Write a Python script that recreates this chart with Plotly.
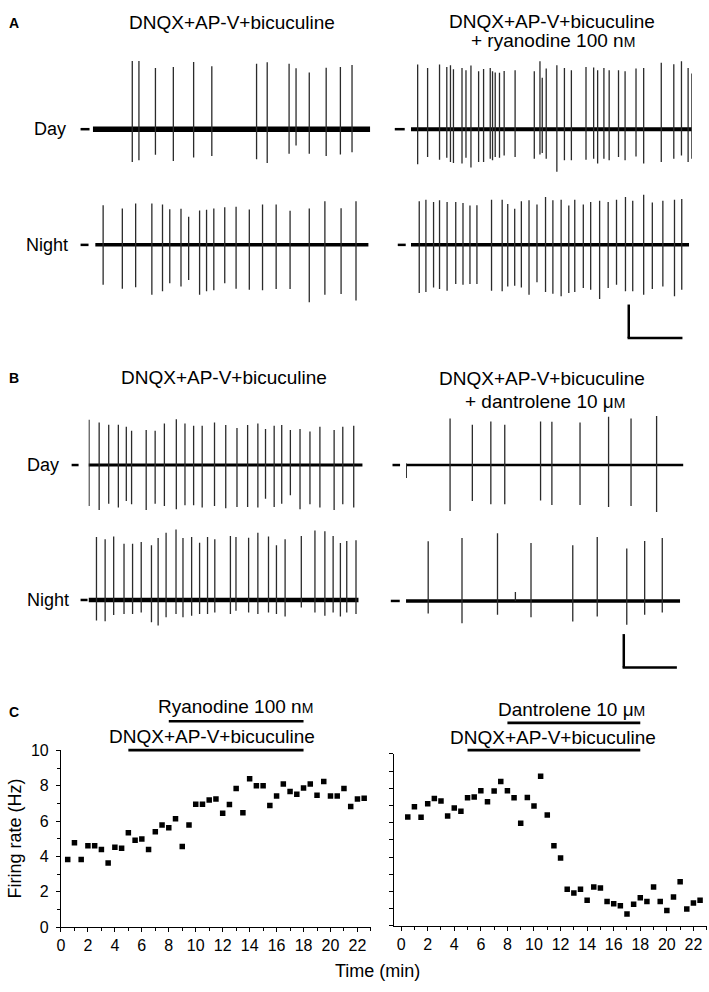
import plotly.graph_objects as go

W, H = 709, 992
FONT = "Liberation Sans, Arial, sans-serif"

# ---------------- Panel A / B: extracellular recordings -----------------
# spike time (sweep units), upward and downward spike amplitude (trace units)
a_day_ctrl_t = [39.7, 46.4, 63.0, 81.0, 101.4, 119.7, 164.7, 175.4, 197.4, 204.4, 217.7, 234.7, 249.0, 260.7]
a_day_ctrl_up = [69.3, 69.3, 62.3, 63.3, 68.3, 64.0, 66.6, 68.0, 66.6, 62.0, 57.6, 62.6, 63.3, 65.3]
a_day_ctrl_dn = [33.4, 31.7, 26.0, 32.4, 28.7, 27.4, 30.7, 34.4, 25.0, 16.7, 25.0, 27.4, 25.7, 23.4]

a_day_rya_t = [6.7, 16.7, 28.7, 36.0, 39.7, 42.7, 51.3, 55.3, 60.3, 68.0, 73.0, 79.7, 82.0, 84.7, 89.0, 93.7,
               104.7, 124.0, 129.7, 132.0, 136.0, 146.7, 154.3, 161.3, 176.0, 183.7, 187.7, 194.0, 199.3,
               208.7, 215.3, 226.3, 234.0, 251.7, 264.3, 272.0, 278.7, 282.3]
a_day_rya_up = [65.7, 62.3, 65.7, 63.3, 65.0, 61.0, 62.3, 60.0, 64.7, 59.0, 61.3, 62.3, 59.0, 57.7, 57.3, 59.3,
                60.0, 59.0, 69.0, 52.3, 61.7, 65.0, 62.3, 60.0, 63.3, 62.7, 60.0, 62.3, 60.0,
                60.0, 59.0, 61.7, 62.3, 67.7, 66.0, 69.0, 62.3, 56.7]
a_day_rya_dn = [35.7, 28.3, 31.0, 29.0, 33.3, 34.3, 35.0, 29.0, 39.0, 33.3, 33.3, 30.0, 31.7, 28.3, 29.0, 26.7,
                28.3, 30.0, 25.7, 24.3, 30.0, 43.3, 31.7, 31.7, 31.0, 30.0, 35.0, 30.0, 31.7,
                28.3, 31.7, 27.7, 35.0, 33.3, 30.0, 26.7, 33.3, 30.0]

a_night_ctrl_t = [8.0, 27.3, 40.7, 57.0, 67.7, 75.0, 86.3, 94.0, 105.0, 112.0, 119.3, 130.3, 141.7, 155.0,
                  168.3, 182.0, 196.0, 215.3, 231.0, 247.3, 262.3]
a_night_ctrl_up = [40.3, 37.0, 42.0, 42.0, 41.0, 36.3, 36.7, 28.7, 35.0, 35.7, 37.0, 38.3, 38.7, 36.0,
                   41.0, 41.0, 34.7, 37.0, 44.3, 37.3, 44.3]
a_night_ctrl_dn = [40.7, 44.7, 43.0, 50.7, 47.3, 39.0, 42.3, 35.7, 50.7, 47.3, 46.3, 39.0, 44.7, 45.7,
                   46.3, 45.0, 45.0, 58.3, 50.7, 50.0, 56.7]

a_night_rya_t = [8.3, 15.0, 22.7, 28.7, 36.3, 45.0, 52.3, 59.3, 66.3, 81.0, 91.7, 97.3, 104.3, 111.0, 118.7,
                 126.7, 135.3, 142.7, 151.0, 158.7, 164.7, 173.3, 180.7, 189.7, 198.3, 206.7, 215.7, 223.0,
                 234.0, 242.7, 253.3, 265.0, 272.3]
a_night_rya_up = [44.3, 46.0, 43.7, 45.3, 43.7, 43.7, 42.7, 40.0, 40.3, 46.0, 46.0, 41.7, 36.7, 44.3, 45.3,
                  41.0, 48.7, 45.3, 46.0, 40.0, 46.0, 41.0, 43.7, 45.0, 43.7, 46.0, 48.7, 45.0,
                  51.0, 43.0, 45.0, 46.0, 46.7]
a_night_rya_dn = [49.0, 48.0, 43.3, 45.0, 46.7, 39.7, 40.7, 39.7, 39.7, 46.7, 47.3, 42.3, 41.7, 43.3, 50.7,
                  38.0, 48.0, 49.7, 52.3, 49.0, 48.0, 44.0, 45.7, 55.0, 44.0, 40.7, 47.3, 47.3,
                  50.7, 45.0, 42.3, 52.3, 45.7]

b_day_ctrl_t = [0.5, 10.7, 20.3, 30.0, 38.0, 43.3, 58.0, 67.0, 76.3, 88.3, 97.0, 105.7, 114.3, 126.7,
                138.0, 149.3, 160.0, 170.3, 178.0, 186.7, 194.3, 203.0, 212.7, 222.7, 232.7, 247.0, 255.7, 266.7]
b_day_ctrl_up = [46.0, 43.3, 41.0, 41.0, 39.0, 35.0, 35.7, 35.0, 42.3, 46.7, 42.3, 40.0, 40.0, 43.3,
                 40.7, 37.7, 40.7, 42.3, 36.7, 40.0, 40.7, 35.7, 36.7, 34.0, 39.0, 35.7, 39.0, 40.0]
b_day_ctrl_dn = [41.7, 45.7, 39.3, 43.3, 36.7, 40.0, 45.7, 39.3, 41.7, 45.0, 41.0, 41.0, 43.3, 41.7,
                 44.0, 42.7, 42.7, 43.3, 34.3, 42.7, 39.3, 30.7, 45.0, 40.0, 43.3, 45.7, 40.0, 43.3]

# first entry is the perfusion/stimulus artefact at sweep onset
b_day_dan_t = [0.3, 44.3, 66.7, 85.3, 99.3, 135.3, 146.7, 175.0, 203.7, 226.3, 252.0]
b_day_dan_up = [1.5, 47.3, 41.0, 44.3, 41.0, 44.3, 44.0, 43.3, 49.0, 47.3, 50.0]
b_day_dan_dn = [13.3, 46.7, 36.7, 40.0, 40.0, 36.0, 40.7, 40.7, 42.7, 41.7, 47.7]

b_night_ctrl_t = [8.0, 16.7, 25.3, 35.7, 44.3, 53.0, 63.3, 70.0, 78.0, 88.0, 95.0, 103.7, 111.7, 119.7, 127.0,
                  142.7, 148.3, 161.0, 170.3, 181.0, 189.0, 197.7, 214.0, 227.7, 237.7, 246.0, 253.3, 259.7, 269.0]
b_night_ctrl_up = [64.0, 61.7, 64.7, 57.3, 57.3, 59.0, 55.7, 63.0, 68.3, 71.7, 63.0, 64.0, 58.3, 64.0, 61.7,
                   65.0, 64.0, 63.3, 68.3, 64.7, 55.7, 61.7, 65.0, 70.7, 70.0, 65.0, 58.0, 60.0, 60.7]
b_night_ctrl_dn = [21.0, 21.7, 15.3, 14.3, 14.3, 12.7, 22.7, 26.0, 17.7, 14.3, 17.7, 16.0, 14.3, 14.3, 12.7,
                   14.3, 11.0, 12.7, 14.3, 12.7, 14.3, 16.7, 7.7, 12.7, 16.0, 12.7, 16.7, 12.7, 14.3]

b_night_dan_t = [22.3, 56.3, 92.0, 110.0, 125.7, 167.7, 192.3, 222.0, 240.0, 257.7]
b_night_dan_up = [60.7, 64.0, 69.0, 9.0, 59.0, 56.7, 65.0, 53.3, 61.0, 64.0]
b_night_dan_dn = [12.7, 22.7, 14.0, 0.0, 16.7, 21.0, 15.7, 24.3, 14.0, 11.7]

# ---------------- Panel C: firing rate time courses -----------------
time_min = [0.5, 1.0, 1.5, 2.0, 2.5, 3.0, 3.5, 4.0, 4.5, 5.0, 5.5, 6.0, 6.5, 7.0, 7.5, 8.0, 8.5, 9.0,
            9.5, 10.0, 10.5, 11.0, 11.5, 12.0, 12.5, 13.0, 13.5, 14.0, 14.5, 15.0, 15.5, 16.0, 16.5,
            17.0, 17.5, 18.0, 18.5, 19.0, 19.5, 20.0, 20.5, 21.0, 21.5, 22.0, 22.5]
rate_ryanodine = [3.83, 4.78, 3.83, 4.61, 4.61, 4.39, 3.63, 4.53, 4.46, 5.35, 4.92, 4.99, 4.40, 5.40, 5.78,
                  5.63, 6.14, 4.56, 5.78, 6.96, 6.96, 7.20, 7.25, 6.44, 6.94, 7.85, 6.48, 8.39, 8.00, 8.00,
                  6.88, 7.42, 8.10, 7.68, 7.52, 7.87, 8.10, 7.46, 8.24, 7.42, 7.42, 7.85, 6.83, 7.25, 7.29]
rate_dantrolene = [6.34, 6.93, 6.32, 7.10, 7.41, 7.26, 6.40, 6.86, 6.67, 7.45, 7.50, 7.87, 7.22, 7.85, 8.40,
                   7.87, 7.45, 5.98, 7.47, 6.97, 8.70, 6.46, 4.67, 3.96, 2.13, 1.92, 2.13, 1.49, 2.27, 2.21,
                   1.43, 1.30, 1.18, 0.69, 1.26, 1.64, 1.43, 2.27, 1.43, 0.90, 1.68, 2.57, 0.99, 1.33, 1.50]
blocker_period = [5, 18]      # DNQX+AP-V+bicuculine (min)
drug_period = [8, 18]         # ryanodine / dantrolene (min)

# ---------------- figure -----------------
fig = go.Figure()
layout = {}

def py(p):
    return 1 - p / H

def px(p):
    return p / W

YLO, YHI = 80, 90
traces = [
    # (t, up, dn, x0px, x1px, baseline_px, band width)
    (a_day_ctrl_t, a_day_ctrl_up, a_day_ctrl_dn, 89.3, 368.3, 123.3, 5.5),
    (a_day_rya_t, a_day_rya_up, a_day_rya_dn, 409.3, 691.7, 123.3, 4.0),
    (a_night_ctrl_t, a_night_ctrl_up, a_night_ctrl_dn, 91.7, 366.7, 241.0, 3.5),
    (a_night_rya_t, a_night_rya_up, a_night_rya_dn, 409.3, 689.0, 241.0, 3.5),
    (b_day_ctrl_t, b_day_ctrl_up, b_day_ctrl_dn, 85.0, 360.7, 465.0, 3.0),
    (b_day_dan_t, b_day_dan_up, b_day_dan_dn, 404.3, 683.3, 465.0, 2.5),
    (b_night_ctrl_t, b_night_ctrl_up, b_night_ctrl_dn, 85.0, 356.7, 602.3, 4.5),
    (b_night_dan_t, b_night_dan_up, b_night_dan_dn, 404.3, 680.0, 603.3, 3.5),
]

for i, (t, up, dn, x0, x1, base, bw) in enumerate(traces, start=1):
    xa = "x" if i == 1 else f"x{i}"
    ya = "y" if i == 1 else f"y{i}"
    L = x1 - x0
    fig.add_trace(go.Scatter(x=[0, L], y=[0, 0], mode="lines", xaxis=xa, yaxis=ya,
                             line=dict(color="black", width=bw), hoverinfo="skip", showlegend=False))
    xs, ys = [], []
    for ti, u, d in zip(t, up, dn):
        xs += [ti, ti, None]
        ys += [u, -d, None]
    fig.add_trace(go.Scatter(x=xs, y=ys, mode="lines", xaxis=xa, yaxis=ya,
                             line=dict(color="#2b2b2b", width=1.3), hoverinfo="skip", showlegend=False))
    key = "" if i == 1 else str(i)
    layout[f"xaxis{key}"] = dict(domain=[px(x0), px(x1)], range=[0, L], visible=False,
                                 anchor=ya, fixedrange=True)
    layout[f"yaxis{key}"] = dict(domain=[py(base + YLO), py(base - YHI)], range=[-YLO, YHI],
                                 visible=False, anchor=xa, fixedrange=True)

# Panel C scatter plots
fig.add_trace(go.Scatter(x=time_min, y=rate_ryanodine, mode="markers", xaxis="x9", yaxis="y9",
                         marker=dict(symbol="square", size=5.5, color="black"), showlegend=False))
fig.add_trace(go.Scatter(x=time_min, y=rate_dantrolene, mode="markers", xaxis="x10", yaxis="y10",
                         marker=dict(symbol="square", size=5.5, color="black"), showlegend=False))

axc = dict(showline=True, linecolor="black", linewidth=1, ticks="outside", ticklen=4, tickwidth=1,
           tickcolor="black", showgrid=False, zeroline=False, fixedrange=True,
           tickfont=dict(family=FONT, size=16, color="black"))
minor = dict(dtick=1, ticks="outside", ticklen=3, tickcolor="black")
layout["xaxis9"] = dict(axc, domain=[px(57.3), px(369.0)], range=[0, 23], anchor="y9",
                        tick0=0, dtick=2, minor=minor)
layout["yaxis9"] = dict(axc, domain=[py(935.3), py(755.3)], range=[0, 10], anchor="x9",
                        tick0=0, dtick=2, ticklabelstandoff=4, minor=minor)
layout["xaxis10"] = dict(axc, domain=[px(392.7), px(706.7)], range=[-0.5, 23], anchor="y10",
                         tick0=0, dtick=2, minor=minor)
layout["yaxis10"] = dict(axc, domain=[py(934.0), py(759.0)], range=[0, 10], anchor="x10",
                         tick0=0, dtick=1, showticklabels=False)

shapes = []
# drug application bars (panel C)
for xr, per, ybar in [("x9", blocker_period, 755.0), ("x9", drug_period, 725.7),
                      ("x10", blocker_period, 755.0), ("x10", drug_period, 727.3)]:
    shapes.append(dict(type="line", xref=xr, yref="paper", x0=per[0], x1=per[1],
                       y0=py(ybar), y1=py(ybar), line=dict(color="black", width=2.7)))

# baseline level markers (dashes)
for xa0, xa1, yy in [(77, 86, 123.3), (393, 403, 123.3), (77, 85, 241), (396, 404, 241),
                     (68, 75, 465), (390.7, 398.3, 465), (77, 84, 602.3), (389, 398, 603.3)]:
    shapes.append(dict(type="line", xref="paper", yref="paper", x0=px(xa0), x1=px(xa1),
                       y0=py(yy), y1=py(yy), line=dict(color="black", width=2.5)))

# scale bars
for (xv, yt, yb, xe) in [(628.3, 301.7, 335.7, 682.3), (623.3, 637.0, 671.0, 676.7)]:
    shapes.append(dict(type="line", xref="paper", yref="paper", x0=px(xv), x1=px(xv),
                       y0=py(yt), y1=py(yb), line=dict(color="black", width=2.5)))
    shapes.append(dict(type="line", xref="paper", yref="paper", x0=px(xv - 1.2), x1=px(xe),
                       y0=py(yb), y1=py(yb), line=dict(color="black", width=2.5)))

small = "<span style='font-size:14px'>M</span>"
ann = []

def text(x, y, s, size=19, xanchor="center", bold=False, angle=0):
    ann.append(dict(x=px(x), y=py(y), xref="paper", yref="paper", text=(f"<b>{s}</b>" if bold else s),
                    showarrow=False, xanchor=xanchor, yanchor="middle", textangle=angle,
                    font=dict(family=FONT, size=size, color="black")))

# panel letters
text(3, 15, "A", 14, "left", True)
text(3, 376, "B", 14, "left", True)
text(3, 716, "C", 14, "left", True)

# titles
text(229, 15, "DNQX+AP-V+bicuculine")
text(551, 14, "DNQX+AP-V+bicuculine")
text(552, 33, "+ ryanodine 100 n" + small)
text(221, 376, "DNQX+AP-V+bicuculine")
text(541, 377, "DNQX+AP-V+bicuculine")
text(544, 400, "+ dantrolene 10 \u03bc" + small)

# row labels
text(64, 123, "Day", 18, "right")
text(66, 241, "Night", 18, "right")
text(57.5, 465, "Day", 18, "right")
text(67.5, 602, "Night", 18, "right")

# panel C headers
text(233, 711, "Ryanodine 100 n" + small)
text(209, 741, "DNQX+AP-V+bicuculine")
text(571, 714, "Dantrolene 10 \u03bc" + small)
text(552, 742, "DNQX+AP-V+bicuculine")

# axis titles
text(11, 845, "Firing rate (Hz)", 18, angle=-90)
text(376, 980, "Time (min)", 18)

fig.update_layout(
    width=W, height=H, autosize=False,
    margin=dict(l=0, r=0, t=0, b=0),
    paper_bgcolor="white", plot_bgcolor="rgba(0,0,0,0)",
    showlegend=False, shapes=shapes, annotations=ann,
    font=dict(family=FONT, color="black"),
    hovermode=False,
    **layout,
)

fig.write_html("out.html",
               config={"displayModeBar": False, "staticPlot": True},
               post_script="document.body.style.margin='0';document.body.style.overflow='hidden';")
